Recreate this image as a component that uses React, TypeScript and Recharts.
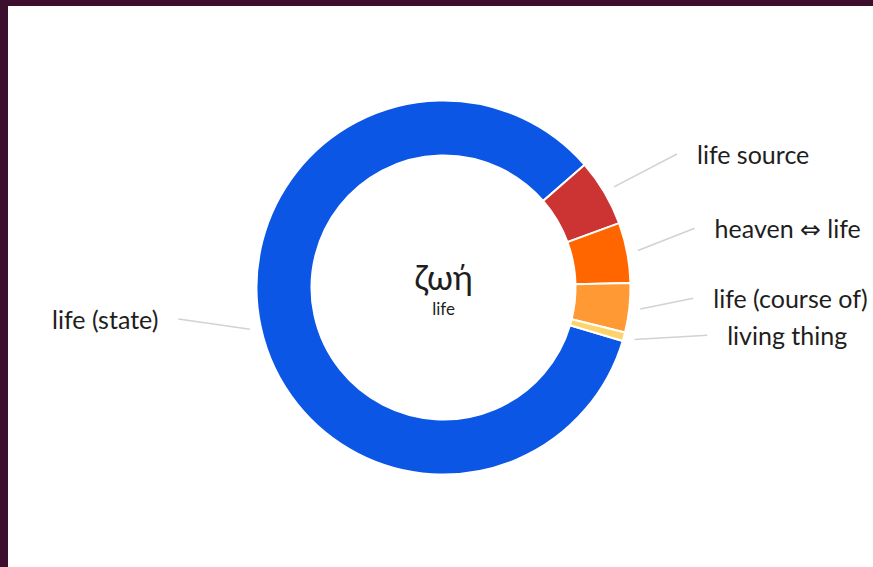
import { Pie, PieChart, Cell } from 'recharts'

const senses = ['life (state)', 'life source', 'heaven ⇔ life', 'life (course of)', 'living thing']
const shares = [84.0, 5.8, 5.2, 4.25, 0.75]
const colors = ['#0c56e6', '#cc3333', '#ff6600', '#ff9933', '#ffd36b']

const lemma = 'ζωή'
const gloss = 'life'

const data = senses.map((name, i) => ({ name, value: shares[i] }))

// leader line tweaks so labels don't collide (end radius, angle shift in degrees)
const labelNudge: Record<string, { r: number; da: number }> = {
  'life (state)': { r: 267, da: -5.4 },
  'life source': { r: 269, da: -0.8 },
  'heaven ⇔ life': { r: 258, da: 2.5 },
  'life (course of)': { r: 250, da: 3.8 },
  'living thing': { r: 268, da: 5 },
}

const RAD = Math.PI / 180
const FONT = "'Source Sans Pro', Lato, 'Noto Sans', 'DejaVu Sans', sans-serif"

function renderLabel(props: any) {
  const { cx, cy, midAngle, outerRadius, name } = props
  const nudge = labelNudge[name] ?? { r: outerRadius + 70, da: 0 }
  const r0 = outerRadius + 11
  const a1 = midAngle + nudge.da
  const x0 = cx + r0 * Math.cos(-midAngle * RAD)
  const y0 = cy + r0 * Math.sin(-midAngle * RAD)
  const x1 = cx + nudge.r * Math.cos(-a1 * RAD)
  const y1 = cy + nudge.r * Math.sin(-a1 * RAD)
  const right = x1 > cx
  return (
    <g>
      <line x1={x0} y1={y0} x2={x1} y2={y1} stroke="#d2d2d2" strokeWidth={1.5} />
      <text
        x={right ? x1 + 20 : x1 - 20}
        y={y1}
        textAnchor={right ? 'start' : 'end'}
        dominantBaseline="central"
        fontSize={25}
        fontFamily={FONT}
        fill="#1e1e1e"
      >
        {name}
      </text>
    </g>
  )
}

export default function App() {
  return (
    <div style={{ position: 'fixed', inset: 0, background: '#3b0f2d' }}>
      <div style={{ position: 'absolute', left: 8, top: 6, width: 865, height: 561, background: '#fff' }}>
        <PieChart width={865} height={561} margin={{ top: 0, right: 0, bottom: 0, left: 0 }}>
          <Pie
            data={data}
            dataKey="value"
            nameKey="name"
            cx={435.5}
            cy={281.5}
            innerRadius={132}
            outerRadius={187}
            startAngle={-16.6}
            endAngle={-376.6}
            stroke="#fff"
            strokeWidth={2}
            label={renderLabel}
            labelLine={false}
            isAnimationActive={false}
          >
            {data.map((d, i) => (
              <Cell key={d.name} fill={colors[i]} />
            ))}
          </Pie>
          <text x={435.5} y={270} textAnchor="middle" dominantBaseline="central" fontSize={34} fontFamily={FONT} fill="#1e1e1e">
            {lemma}
          </text>
          <text x={435.5} y={302} textAnchor="middle" dominantBaseline="central" fontSize={17} fontFamily={FONT} fill="#1e1e1e">
            {gloss}
          </text>
        </PieChart>
      </div>
    </div>
  )
}
